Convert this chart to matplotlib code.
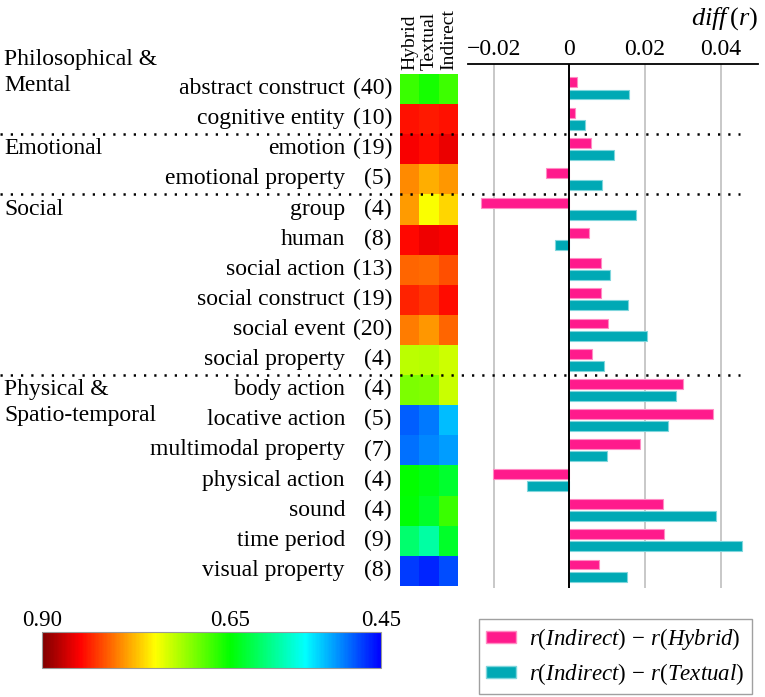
import matplotlib
matplotlib.use("Agg")
import matplotlib.pyplot as plt
import matplotlib.transforms as mtrans
from matplotlib.colors import LinearSegmentedColormap
from matplotlib.lines import Line2D
from matplotlib.patches import Patch
import numpy as np

plt.rcParams['font.family'] = ['Liberation Serif', 'DejaVu Serif']
plt.rcParams['mathtext.fontset'] = 'custom'
plt.rcParams['mathtext.rm'] = 'Liberation Serif'
plt.rcParams['mathtext.it'] = 'Liberation Serif:italic'

# ---------------- data ----------------
categories = ["abstract construct", "cognitive entity", "emotion", "emotional property",
              "group", "human", "social action", "social construct", "social event",
              "social property", "body action", "locative action", "multimodal property",
              "physical action", "sound", "time period", "visual property"]
counts = [40, 10, 19, 5, 4, 8, 13, 19, 20, 4, 4, 5, 7, 4, 4, 9, 8]
groups = ["Philosophical &", "Mental", "Emotional", "Social", "Physical &", "Spatio-temporal"]
group_rows = [-0.98, -0.1, 2, 4, 10, 10.85]
separators_after = [1, 3, 9]

columns = ["Hybrid", "Textual", "Indirect"]
hybrid = [0.672, 0.842, 0.851, 0.796, 0.789, 0.846, 0.810, 0.836, 0.800, 0.724,
          0.698, 0.487, 0.494, 0.652, 0.648, 0.608, 0.473]
textual = [0.658, 0.839, 0.845, 0.781, 0.748, 0.855, 0.808, 0.828, 0.790, 0.721,
           0.700, 0.499, 0.503, 0.643, 0.634, 0.587, 0.465]
indirect = [0.674, 0.843, 0.857, 0.790, 0.766, 0.851, 0.818, 0.844, 0.810, 0.730,
            0.728, 0.525, 0.513, 0.632, 0.673, 0.633, 0.481]

diff_hybrid = [0.0021, 0.0014, 0.0058, -0.0061, -0.0234, 0.0053, 0.0083, 0.0084, 0.0101,
               0.0060, 0.0300, 0.0380, 0.0186, -0.0201, 0.0249, 0.0251, 0.0079]
diff_textual = [0.0158, 0.0042, 0.0119, 0.0087, 0.0177, -0.0037, 0.0107, 0.0156, 0.0205,
                0.0093, 0.0283, 0.0261, 0.0099, -0.0113, 0.0388, 0.0456, 0.0153]

cbar_ticks = [0.90, 0.65, 0.45]
bar_ticks = [-0.02, 0, 0.02, 0.04]

# ---------------- figure ----------------
W, H = 765, 697
fig = plt.figure(figsize=(W / 100, H / 100), dpi=100)

def fbox(x0, y0, x1, y1):
    return [x0 / W, 1 - y1 / H, (x1 - x0) / W, (y1 - y0) / H]

cmap = LinearSegmentedColormap.from_list(
    "rb", [(0.0, (0, 0, 1)), (2 / 9, (0, 1, 1)), (4 / 9, (0, 1, 0)),
           (6 / 9, (1, 1, 0)), (8 / 9, (1, 0, 0)), (1.0, (0.5, 0, 0))])

n = len(categories)
FS = 17

# heatmap
ax_h = fig.add_axes(fbox(400, 73.5, 458, 585.5))
mat = np.array([hybrid, textual, indirect]).T
ax_h.imshow(mat, cmap=cmap, vmin=0.45, vmax=0.90, aspect='auto',
            extent=(-0.5, 2.5, n - 0.5, -0.5), interpolation='nearest')
ax_h.set_xlim(-0.5, 2.5)
ax_h.set_ylim(n - 0.5, -0.5)
ax_h.set_xticks([])
ax_h.set_yticks([])
for s in ax_h.spines.values():
    s.set_visible(False)
for j, c in enumerate(columns):
    ax_h.text(j, -0.6, c, rotation=90, ha='center', va='bottom', fontsize=14)

# labels
lab_tr = mtrans.blended_transform_factory(fig.transFigure, ax_h.transData)
for i, (c, k) in enumerate(zip(categories, counts)):
    fig.text(345 / W, i, c, transform=lab_tr, ha='right', va='center', fontsize=FS)
    fig.text(392 / W, i, f"({k})", transform=lab_tr, ha='right', va='center', fontsize=FS)
for g, r in zip(groups, group_rows):
    fig.text(4 / W, r, g, transform=lab_tr, ha='left', va='center', fontsize=FS)

# bar chart
ax_b = fig.add_axes(fbox(468, 64, 758, 588))
y = np.arange(n)
bh = 0.33
ax_b.barh(y - 0.2, diff_hybrid, height=bh, color='#FF1A8C', edgecolor='#FF8CC4', linewidth=0.8, zorder=3)
ax_b.barh(y + 0.2, diff_textual, height=bh, color='#00A9B5', edgecolor='#7FD6DC', linewidth=0.8, zorder=3)
ax_b.set_xlim(-0.0268, 0.0499)
ax_b.set_ylim(16.58, -0.813)
for t in bar_ticks:
    if t == 0:
        ax_b.axvline(0, color='black', lw=1.4, zorder=4)
    else:
        ax_b.axvline(t, color='#C4C4C4', lw=1.3, zorder=1)
ax_b.xaxis.tick_top()
ax_b.set_xticks(bar_ticks)
ax_b.set_xticklabels(["0" if t == 0 else f"{t:.2f}".replace("-", "\u2212") for t in bar_ticks],
                     fontsize=FS)
ax_b.tick_params(axis='x', length=0, pad=3)
ax_b.set_yticks([])
for k, s in ax_b.spines.items():
    s.set_visible(k == 'top')
ax_b.spines['top'].set_linewidth(1.3)
fig.text(758 / W, 1 - 19 / H, r"$diff\,(r)$", ha='right', va='center', fontsize=19)

# dotted separators
for s in separators_after:
    fig.add_artist(Line2D([0.0, 740 / W], [s + 0.5, s + 0.5], transform=lab_tr,
                          color='black', lw=1.8, linestyle=(0, (0.9, 3.2)), zorder=10))

# colorbar
ax_c = fig.add_axes(fbox(42, 632, 381, 668))
sm = matplotlib.cm.ScalarMappable(cmap=cmap, norm=plt.Normalize(0.45, 0.90))
cb = fig.colorbar(sm, cax=ax_c, orientation='horizontal', ticks=cbar_ticks)
ax_c.invert_xaxis()
ax_c.xaxis.set_ticks_position('top')
ax_c.set_xticklabels([f"{t:.2f}" for t in cbar_ticks], fontsize=16.5)
ax_c.tick_params(axis='x', length=0, pad=1)
cb.outline.set_edgecolor('#999999')
cb.outline.set_linewidth(0.8)

# legend
handles = [Patch(facecolor='#FF1A8C', edgecolor='#FF8CC4'),
           Patch(facecolor='#00A9B5', edgecolor='#7FD6DC')]
labels = [r"$r(Indirect)\,-\,r(Hybrid)$", r"$r(Indirect)\,-\,r(Textual)$"]
leg = fig.legend(handles, labels, loc='upper left', bbox_to_anchor=(479 / W, 1 - 619 / H),
                 fontsize=16.5, frameon=True, fancybox=False, edgecolor='#888888',
                 handlelength=1.3, handleheight=0.45, labelspacing=0.4,
                 borderpad=0.3, handletextpad=0.6, borderaxespad=0)
leg.get_frame().set_linewidth(1.0)

fig.savefig("out.png", dpi=100)
